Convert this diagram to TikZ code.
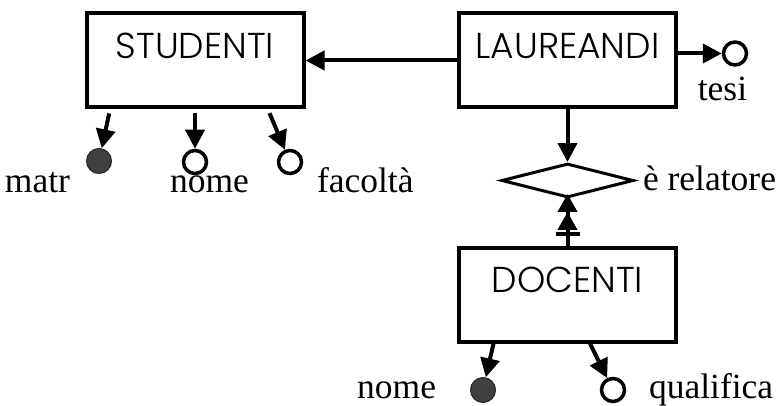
\documentclass[tikz,border=0pt]{standalone}
\usepackage{fontspec}
\setmainfont{Liberation Serif}
\newfontfamily\entityfont{Poppins Light}
\usetikzlibrary{arrows.meta,positioning,shapes.geometric,decorations.markings}

\begin{document}
\begin{tikzpicture}[->,>={Triangle[length=19pt,width=19pt]},line width=4pt,
            x=1pt,y=-1pt,on grid]
        \tikzstyle{entity}=[draw,rectangle,line width=4pt,minimum width=217pt,inner ysep=0pt,
            text height=45pt,text depth=49pt,font=\entityfont\fontsize{36}{42}\selectfont]
        \tikzstyle{relation}=[draw,diamond,line width=3pt,minimum width=132pt,
            minimum height=34pt,aspect=3.9,inner sep=0pt]
        \tikzstyle{attr}=[draw,circle,line width=3.5pt,minimum size=23pt,inner sep=0pt]
        \tikzstyle{keyattr}=[attr,fill=black!75,draw=black!85,line width=1pt,minimum size=25pt]
        \tikzstyle{lbl}=[inner sep=0pt,font=\fontsize{35.5}{40}\selectfont]

        \useasboundingbox (0,0) rectangle (784,406);

        \node[entity] (S) at (195,60.5) {STUDENTI};
        \node[entity] (L) [right=372.5pt of S] {LAUREANDI};
        \node[relation] (rel) [below=120pt of L] {};
        \node[entity] (D) [below=114pt of rel] {DOCENTI};

        \node[keyattr] (matr) [below left=100.5pt and 96pt of S] {};
        \node[attr] (nomeS) [below=101.5pt of S] {};
        \node[attr] (fac) [below right=101.5pt and 95pt of S] {};
        \node[attr] (tesi) [above right=7pt and 167.5pt of L] {};
        \node[keyattr] (nomeD) [below left=95.5pt and 84.5pt of D] {};
        \node[attr] (qual) [below right=95.5pt and 45.5pt of D] {};

        \node[lbl,anchor=base east] (matrL) at ([shift={(-27,32)}]matr.center) {matr};
        \node[lbl,anchor=base] (nomeSL) at ([shift={(14.5,31)}]nomeS.center) {nome};
        \node[lbl,anchor=base west] (facL) at ([shift={(25,31)}]fac.center) {facoltà};
        \node[lbl,anchor=base] (tesiL) at ([shift={(-12.5,47)}]tesi.center) {tesi};
        \node[lbl,anchor=base west] (relL) at ([shift={(6,10)}]rel.east) {è relatore};
        \node[lbl,anchor=base east] (nomeDL) at ([shift={(-45,8)}]nomeD.center) {nome};
        \node[lbl,anchor=base west] (qualL) at ([shift={(34,8)}]qual.center) {qualifica};

        \path (L) edge (S);
        \path ([yshift=7pt]L.east) edge (tesi);
        \path (L) edge (rel);
        \path (D) edge[-{Triangle[length=18pt,width=19pt] Triangle[length=18pt,width=19pt,sep=-5pt]},
            postaction={decorate},decoration={markings,
            mark=at position 12pt with {\draw[-] (0pt,-12pt) -- (0pt,12pt);}}] (rel);
        \path ([xshift=-85pt]S.south) edge[shorten <=4pt] (matr);
        \path (S.south) edge[shorten <=4pt] (nomeS);
        \path ([xshift=73pt]S.south) edge[shorten <=4pt] (fac);
        \path ([xshift=-74pt]D.south) edge (nomeD);
        \path ([xshift=22.5pt]D.south) edge (qual);
    \end{tikzpicture}
\end{document}
